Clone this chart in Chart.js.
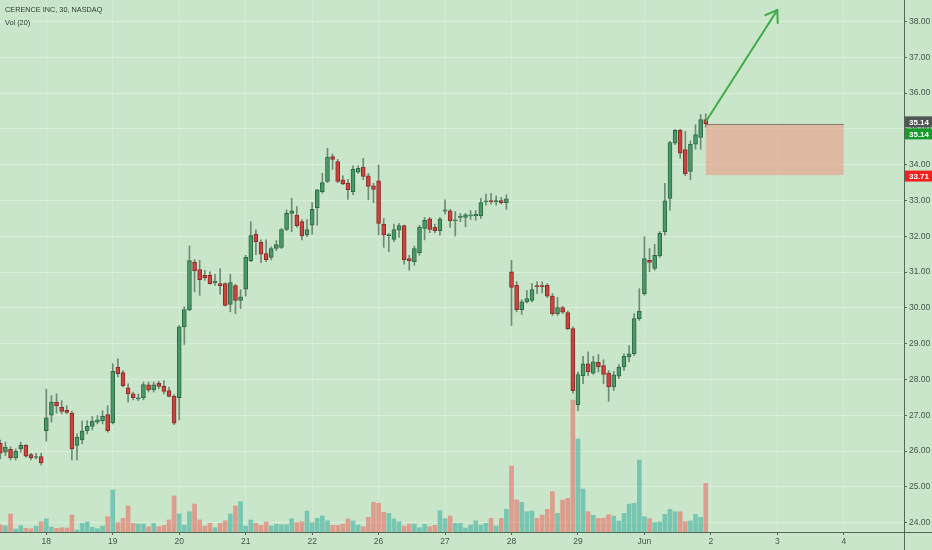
<!DOCTYPE html>
<html><head><meta charset="utf-8">
<script src="https://cdn.jsdelivr.net/npm/chart.js@4.4.1/dist/chart.umd.min.js"></script>
<style>
html,body{margin:0;padding:0;background:#c9e6ca;overflow:hidden;}
#wrap{position:relative;width:932px;height:550px;}
.ttl{position:absolute;left:5px;font:7.3px "Liberation Sans",Arial,sans-serif;color:#2f3b33;white-space:nowrap;}
</style></head><body>
<div id="wrap"><canvas id="c" width="932" height="550"></canvas>
<div class="ttl" style="top:5px;">CERENCE INC, 30, NASDAQ</div>
<div class="ttl" style="top:18px;">Vol (20)</div>
</div>
<script>
// ---- tick labels ----
const dayTickIndex  = [9,22,35,48,61,74,87,100,113,126,139,152,165];
const dayTickLabels = ['18','19','20','21','22','26','27','28','29','Jun','2','3','4'];
const priceTicks = [24,25,26,27,28,29,30,31,32,33,34,35,36,37,38];

// ---- 30-min bars (index 0 = first visible bar) ----
const opens = [
26.22,25.97,26.05,25.81,26.06,26.16,25.90,25.82,25.85,
26.57,27.00,27.37,27.22,27.14,27.06,26.16,26.31,26.57,26.69,26.81,26.85,27.02,
26.79,28.35,28.19,27.77,27.60,27.46,27.49,27.85,27.71,27.90,27.81,27.69,27.53,
27.49,29.47,29.95,31.28,31.07,30.91,30.91,30.70,30.68,30.68,30.10,30.62,30.21,
30.52,31.32,32.06,31.83,31.52,31.41,31.66,31.69,32.19,32.64,32.59,32.41,32.04,
32.31,32.80,33.25,33.53,34.23,34.09,33.58,33.48,33.25,33.79,33.93,33.69,33.41,
33.55,32.34,32.02,31.91,32.17,32.30,31.38,31.29,31.54,32.22,32.49,32.25,32.16,
32.70,32.71,32.43,32.53,32.53,32.57,32.57,32.57,32.96,33.00,32.96,33.00,32.94,
31.01,30.63,29.95,30.17,30.21,30.62,30.62,30.63,30.33,29.84,30.01,29.87,29.42,
27.30,28.11,28.44,28.18,28.48,28.39,28.18,27.79,28.09,28.35,28.63,28.72,29.70,
30.40,31.33,31.10,31.45,32.13,33.06,34.60,34.96,34.42,33.81,34.57,34.76,35.26];
const highs = [
26.31,26.25,26.12,26.06,26.25,26.18,25.94,25.94,25.94,
27.73,27.55,27.60,27.41,27.27,27.12,26.48,26.84,26.85,26.97,26.99,27.13,27.27,
28.44,28.58,28.25,27.88,27.65,27.60,27.93,27.93,27.93,27.95,27.97,27.79,27.58,
29.51,30.03,31.73,31.35,31.33,31.05,31.01,30.94,31.10,30.70,30.94,30.66,30.51,
31.47,32.41,32.18,31.90,31.90,31.71,31.88,32.22,32.74,33.06,32.83,32.47,32.47,
32.94,33.31,33.76,34.46,34.30,34.15,33.69,33.59,33.97,33.97,34.18,33.76,33.48,
33.99,32.50,32.08,32.34,32.36,32.31,31.47,31.73,32.31,32.53,32.53,32.34,32.53,
33.02,32.75,32.69,32.64,32.64,32.72,32.72,33.06,33.18,33.20,33.13,33.09,33.16,
31.33,30.73,30.23,30.49,30.68,30.73,30.73,30.68,30.40,30.29,30.05,29.91,29.47,
28.21,28.65,28.77,28.65,28.70,28.55,28.25,28.23,28.42,28.72,28.95,29.84,30.54,
31.99,31.66,31.78,32.13,33.48,34.65,34.99,34.99,34.93,34.67,35.12,35.40,35.42];
const lows = [
25.78,25.87,25.75,25.75,25.97,25.83,25.75,25.78,25.61,
26.28,26.81,27.06,27.04,27.04,25.75,25.75,26.20,26.48,26.59,26.76,26.76,26.53,
26.76,28.07,27.79,27.37,27.43,27.41,27.43,27.65,27.65,27.74,27.60,27.51,26.74,
26.87,28.98,29.92,30.45,30.35,30.77,30.66,30.63,30.38,30.05,29.89,29.84,29.98,
30.33,31.29,31.49,31.26,31.29,31.34,31.60,31.66,32.16,32.13,32.25,31.90,31.99,
32.06,32.31,33.20,33.50,33.87,33.50,33.44,33.03,33.16,33.76,33.58,33.02,32.94,
32.04,31.69,31.57,31.85,31.97,31.22,31.05,31.19,31.47,31.90,32.10,32.10,32.03,
32.62,32.25,32.01,32.41,32.27,32.47,32.45,32.50,32.87,32.90,32.87,32.90,32.75,
29.51,29.89,29.82,30.14,30.17,30.40,30.42,30.29,29.79,29.79,29.84,29.39,27.62,
27.13,27.88,28.11,28.14,28.21,27.88,27.39,27.69,28.02,28.25,28.49,28.67,29.65,
30.35,31.01,31.05,31.41,32.03,32.73,34.56,34.18,33.69,33.58,34.43,34.43,35.05];
const closes = [
25.94,26.11,25.81,25.99,26.16,25.86,25.81,25.84,25.67,
26.93,27.37,27.26,27.11,27.08,26.06,26.39,26.56,26.69,26.83,26.87,26.97,26.57,
28.23,28.16,27.83,27.60,27.49,27.49,27.86,27.71,27.85,27.81,27.67,27.53,26.78,
29.47,29.95,31.32,31.03,30.79,30.84,30.68,30.75,30.62,30.07,30.71,30.21,30.31,
31.41,32.02,31.85,31.50,31.35,31.66,31.77,32.19,32.64,32.71,32.30,32.01,32.19,
32.75,33.30,33.50,34.21,34.15,33.53,33.46,33.30,33.87,33.90,33.67,33.39,33.31,
32.36,32.04,32.05,32.19,32.30,31.35,31.32,31.66,32.25,32.45,32.19,32.16,32.48,
32.74,32.44,32.46,32.55,32.60,32.60,32.62,32.94,32.99,32.96,33.00,32.94,33.05,
30.57,29.95,30.17,30.26,30.51,30.59,30.59,30.33,29.84,30.01,29.88,29.42,27.69,
28.14,28.44,28.21,28.49,28.35,28.14,27.79,28.13,28.35,28.65,28.72,29.70,29.91,
31.38,31.27,31.47,32.08,32.99,34.62,34.96,34.32,33.74,34.57,34.84,35.26,35.14];
// volume, thousands of shares
const volumes = [
7,6.3,18,3,6.3,3.7,3.3,6,10.3,
13.3,5,3.7,4.3,4,17,2,8.7,10,4.7,3.3,6,15.3,
42,9.3,13.7,26,8.7,8,8,5.3,8.7,5.3,6.7,12,36,
18,7,20.3,28,12,6,8.7,4.3,8.7,11.3,18,26,30.3,
6,12,8.7,6.7,10,6,7.7,7.3,7.3,13.3,9.3,10.3,21,
9.3,13.7,16,11.3,6.7,6.7,8,13,11,7,5.3,14.7,29.7,
28.7,19.7,18.7,13,10.3,6,8,8,4.3,7.7,5.3,6.7,21.3,
13.3,16,8.7,8.7,4,7,11.3,7,8.7,13.7,6,13.7,22.7,
66,32,29.7,20.3,21,13.7,17,22.7,40.3,18.7,32,33.7,132,
93,43,20.3,16.7,13.7,13.7,17.3,16,11,18.7,28,28.7,72,
15.3,13.3,9.3,10,17.7,22.7,20.3,20.3,10.3,11,17.7,14.7,48.7];

// ---- drawing (long position box + arrow) ----
const entryPrice = 35.14;
const stopPrice = 33.71;
const boxFromIdx = 138, boxToIdx = 165;
const arrowFrom = {x:138, y:35.20};
const arrowTo   = {x:152, y:38.32};

// ---- derived datasets ----
const idx = opens.map((_, i) => i);
const up = idx.map(i => closes[i] >= opens[i]);
const wickData = idx.map(i => ({x:i, y:[lows[i], highs[i]]}));
const bodyData = idx.map(i => ({x:i, y:[Math.min(opens[i],closes[i]), Math.max(opens[i],closes[i])]}));
const volData  = idx.map(i => ({x:i, y:volumes[i]}));

const GREEN = '#4a9868', GREEN_B = '#2d6a46', RED = '#c9433f', RED_B = '#8c2b28';
const AXIS = '#56655a';

const bgPlugin = {
  id:'bg',
  beforeDraw(chart){
    const c = chart.ctx; c.save(); c.fillStyle = '#c9e6ca';
    c.fillRect(0,0,chart.width,chart.height); c.restore();
  }
};

const drawPlugin = {
  id:'drawings',
  afterDatasetsDraw(chart){
    const c = chart.ctx, xs = chart.scales.x, ys = chart.scales.y;
    const x0 = xs.getPixelForValue(boxFromIdx), x1 = xs.getPixelForValue(boxToIdx);
    const yT = ys.getPixelForValue(entryPrice), yB = ys.getPixelForValue(stopPrice);
    c.save();
    c.fillStyle = 'rgba(240,140,118,0.5)';
    c.fillRect(x0, yT, x1 - x0, yB - yT);
    c.strokeStyle = 'rgba(95,95,85,0.7)'; c.lineWidth = 1;
    c.beginPath(); c.moveTo(x0, Math.round(yT)+0.5); c.lineTo(x1, Math.round(yT)+0.5); c.stroke();
    // arrow head
    const ax = xs.getPixelForValue(arrowFrom.x), ay = ys.getPixelForValue(arrowFrom.y);
    const bx = xs.getPixelForValue(arrowTo.x), by = ys.getPixelForValue(arrowTo.y);
    const ang = Math.atan2(by - ay, bx - ax);
    c.strokeStyle = '#3faa48'; c.lineWidth = 2; c.lineCap = 'round';
    c.beginPath();
    c.moveTo(bx + 13*Math.cos(ang + Math.PI - 0.6), by + 13*Math.sin(ang + Math.PI - 0.6));
    c.lineTo(bx, by);
    c.lineTo(bx + 13*Math.cos(ang + Math.PI + 0.6), by + 13*Math.sin(ang + Math.PI + 0.6));
    c.stroke();
    c.restore();
  },
  afterDraw(chart){
    const c = chart.ctx, ys = chart.scales.y, ca = chart.chartArea, left = ca.right + 1;
    const w = chart.width - left;
    // axis lines continue into the corner
    c.save();
    c.strokeStyle = AXIS; c.lineWidth = 1;
    c.beginPath();
    c.moveTo(ca.right, ca.bottom + 0.5); c.lineTo(chart.width, ca.bottom + 0.5);
    c.moveTo(ca.right + 0.5, ca.bottom); c.lineTo(ca.right + 0.5, chart.height);
    c.stroke();
    c.restore();
    const yE = ys.getPixelForValue(entryPrice), yS = ys.getPixelForValue(stopPrice);
    const labels = [
      {y: yE - 2, bg:'#4f5552', t: entryPrice.toFixed(2)},
      {y: yE + 10, bg:'#169a2a', t: entryPrice.toFixed(2)},
      {y: yS + 1, bg:'#f2201f', t: stopPrice.toFixed(2)}
    ];
    c.save();
    c.font = 'bold 8px "Liberation Sans", Arial, sans-serif';
    c.textBaseline = 'middle'; c.textAlign = 'left';
    labels.forEach(l => {
      c.fillStyle = l.bg; c.fillRect(left, l.y - 5.5, w, 11);
      c.fillStyle = '#ffffff'; c.fillText(l.t, left + 4, l.y + 0.5);
    });
    c.restore();
  }
};

function noPad(s){ s.paddingTop = 0; s.paddingBottom = 0; s.paddingLeft = 0; s.paddingRight = 0; }

new Chart(document.getElementById('c'), {
  data:{
    datasets:[
      {type:'bar', label:'Vol', data:volData, yAxisID:'yVol', order:4, grouped:false,
       barThickness:4, backgroundColor: idx.map(i => up[i] ? 'rgba(38,166,154,0.5)' : 'rgba(239,83,80,0.5)'),
       borderWidth:0},
      {type:'bar', label:'wick', data:wickData, yAxisID:'y', order:3, grouped:false,
       barThickness:1, backgroundColor:'#6e8b75', borderWidth:0},
      {type:'bar', label:'body', data:bodyData, yAxisID:'y', order:2, grouped:false,
       barThickness:4, minBarLength:1, borderSkipped:false, borderWidth:1,
       backgroundColor: idx.map(i => up[i] ? GREEN : RED),
       borderColor: idx.map(i => up[i] ? GREEN_B : RED_B)},
      {type:'line', label:'arrow', data:[arrowFrom, arrowTo], yAxisID:'y', order:1,
       borderColor:'#3faa48', borderWidth:2, pointRadius:0, tension:0}
    ]
  },
  options:{
    responsive:false, animation:false,
    layout:{padding:0},
    plugins:{legend:{display:false}, tooltip:{enabled:false}, title:{display:false}},
    scales:{
      x:{type:'linear', min:-0.06, max:176.78, offset:false,
         afterBuildTicks:s => { s.ticks = dayTickIndex.map(v => ({value:v})); },
         afterFit:s => { s.height = 18; noPad(s); },
         ticks:{autoSkip:false, maxRotation:0, padding:2, color:'#46554a',
                font:{family:'"Liberation Sans", Arial, sans-serif', size:8.5},
                callback:v => { const k = dayTickIndex.indexOf(v); return k >= 0 ? dayTickLabels[k] : ''; }},
         grid:{offset:false, color:'rgba(255,255,255,0.2)', tickColor:AXIS, tickLength:3},
         border:{color:AXIS, width:1}},
      y:{type:'linear', position:'right', min:23.74, max:38.6006,
         afterBuildTicks:s => { s.ticks = priceTicks.map(v => ({value:v})); },
         afterFit:s => { s.width = 28; noPad(s); },
         ticks:{padding:2, color:'#46554a',
                font:{family:'"Liberation Sans", Arial, sans-serif', size:8.5},
                callback:v => Number(v).toFixed(2)},
         grid:{color:'rgba(255,255,255,0.3)', tickColor:AXIS, tickLength:3},
         border:{color:AXIS, width:1}},
      yVol:{type:'linear', display:false, min:0, max:532}
    }
  },
  plugins:[bgPlugin, drawPlugin]
});
</script>
</body></html>
